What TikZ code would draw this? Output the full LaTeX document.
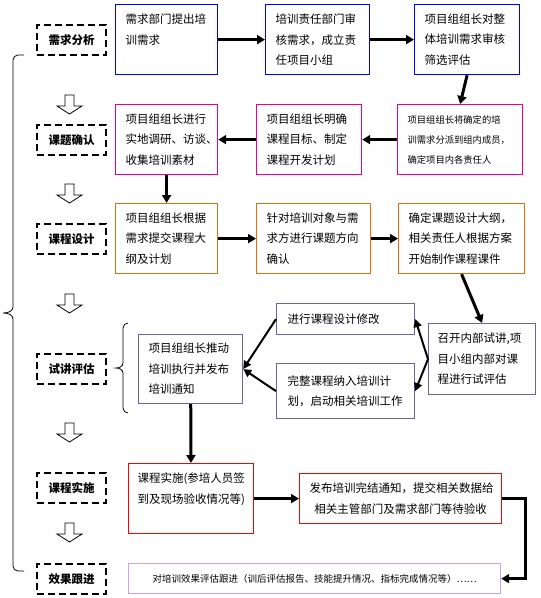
\documentclass[tikz,border=0pt]{standalone}
\usepackage{fontspec}
\setmainfont{Noto Sans CJK SC}
\usetikzlibrary{arrows.meta}
\definecolor{orangeline}{RGB}{228,108,10}
\definecolor{slateline}{RGB}{102,102,153}
\definecolor{lilacline}{RGB}{200,160,245}
\begin{document}
\begin{tikzpicture}[x=1pt,y=-1pt,
  box/.style={draw,line width=1.2pt,anchor=north west,align=left,inner xsep=10pt,inner ysep=0pt,
    font=\fontsize{11.5}{20.5}\selectfont},
  stage/.style={draw,line width=2.4pt,dash pattern=on 7pt off 4pt,anchor=north west,
    minimum width=69pt,minimum height=30pt,inner sep=0pt,font=\fontsize{11.5}{14}\selectfont\bfseries},
  flow/.style={line width=3pt,-{Triangle[length=8pt,width=9pt]}},
  thin flow/.style={line width=2pt,-{Triangle[length=8pt,width=8pt]}}]
\useasboundingbox (0,0) rectangle (541,598);

% stages
\node[stage] (s1) at (36,24) {需求分析};
\node[stage] (s2) at (36,124) {课题确认};
\node[stage] (s3) at (36,223) {课程设计};
\node[stage] (s4) at (36,353) {试讲评估};
\node[stage] (s5) at (36,472) {课程实施};
\node[stage] (s6) at (36,563) {效果跟进};
\foreach \y in {95,184,294,423,523}
  \draw[line width=0.8pt] (65,\y) -- (74,\y) -- (74,\y+11) -- (82,\y+11) -- (69.5,\y+19)
    -- (57,\y+11) -- (65,\y+11) -- cycle;

% braces
\draw[line width=0.8pt] (24,55) -- (18,55) to[out=180,in=90] (13,60) -- (13,307)
  to[out=-90,in=0] (3,313) to[out=0,in=90] (13,319) -- (13,566) to[out=-90,in=180] (18,571) -- (24,571);
\draw[line width=0.8pt] (128,323) to[out=180,in=90] (123,328) -- (123,363)
  to[out=-90,in=0] (116,368) to[out=0,in=90] (123,373) -- (123,408) to[out=-90,in=180] (128,413);

% row 1
\node[box,blue,text=black,text width=82pt,minimum height=70pt] (need) at (115,4) {需求部门提出培\\训需求\\~};
\node[box,blue,text=black,text width=84pt,minimum height=70pt] (audit) at (265,4) {培训责任部门审\\核需求，成立责\\任项目小组};
\node[box,blue,text=black,text width=85pt,minimum height=70pt] (screen) at (414,4) {项目组组长对整\\体培训需求审核\\筛选评估};
% row 2
\node[box,magenta,text=black,text width=82pt,minimum height=70pt] (survey) at (115,104) {项目组组长进行\\实地调研、访谈、\\收集培训素材};
\node[box,magenta,text=black,text width=85pt,minimum height=70pt] (goal) at (256,104) {项目组组长明确\\课程目标、制定\\课程开发计划};
\node[box,magenta,text=black,text width=105pt,minimum height=70pt,
  font=\fontsize{9.3}{20}\selectfont] (assign) at (397,104) {项目组组长将确定的培\\训需求分派到组内成员，\\确定项目内各责任人};
% row 3
\node[box,orangeline,text=black,text width=82pt,minimum height=70pt] (outline) at (115,203) {项目组组长根据\\需求提交课程大\\纲及计划};
\node[box,orangeline,text=black,text width=94pt,minimum height=70pt] (topic) at (256,203) {针对培训对象与需\\求方进行课题方向\\确认};
\node[box,orangeline,text=black,text width=106pt,minimum height=70pt] (make) at (398,203) {确定课题设计大纲，\\相关责任人根据方案\\开始制作课程课件};
% row 4
\node[box,slateline,text=black,text width=84pt,minimum height=69pt] (notice) at (138,334) {项目组组长推动\\培训执行并发布\\培训通知};
\node[box,slateline,text=black,text width=116pt,minimum height=31pt,inner xsep=11pt] (revise) at (276,303) {进行课程设计修改};
\node[box,slateline,text=black,text width=116pt,minimum height=55pt,inner xsep=11pt] (plan) at (276,363) {完整课程纳入培训计\\划，启动相关培训工作};
\node[box,slateline,text=black,text width=89pt,minimum height=71pt,inner xsep=9pt] (trial) at (428,323) {召开内部试讲,项\\目小组内部对课\\程进行试评估};
% row 5
\node[box,red,text=black,text width=107pt,minimum height=70pt,inner xsep=9pt] (run) at (128,463) {课程实施(参培人员签\\到及现场验收情况等)\\~};
\node[box,red,text=black,text width=182pt,minimum height=50pt,align=center] (close) at (299,473) {发布培训完结通知，提交相关数据给\\相关主管部门及需求部门等待验收};
\node[box,lilacline,text=black,text width=352pt,minimum height=30pt,align=center,
  font=\fontsize{9.5}{12}\selectfont] (follow) at (128,563) {对培训效果评估跟进（训后评估报告、技能提升情况、指标完成情况等）……};

% connectors
\draw[flow] (need) -- (audit);
\draw[flow] (audit) -- (screen);
\draw[flow] (screen.south) -- (assign.north);
\draw[flow] (assign) -- (goal);
\draw[flow] (goal) -- (survey);
\draw[flow] (survey) -- (outline);
\draw[flow] (outline) -- (topic);
\draw[flow] (topic) -- (make);
\draw[flow] (make.south) -- (trial.north);
\draw[thin flow] (trial.west) -- (revise.east);
\draw[thin flow] (trial.west) -- (plan.east);
\draw[thin flow] (revise.west) -- (notice.east);
\draw[thin flow] (plan.west) -- (notice.east);
\draw[flow] (notice) -- (run);
\draw[flow] (run) -- (close);
\draw[flow] (close.east) -- ++(23,0) |- (follow.east);
\end{tikzpicture}
\end{document}
